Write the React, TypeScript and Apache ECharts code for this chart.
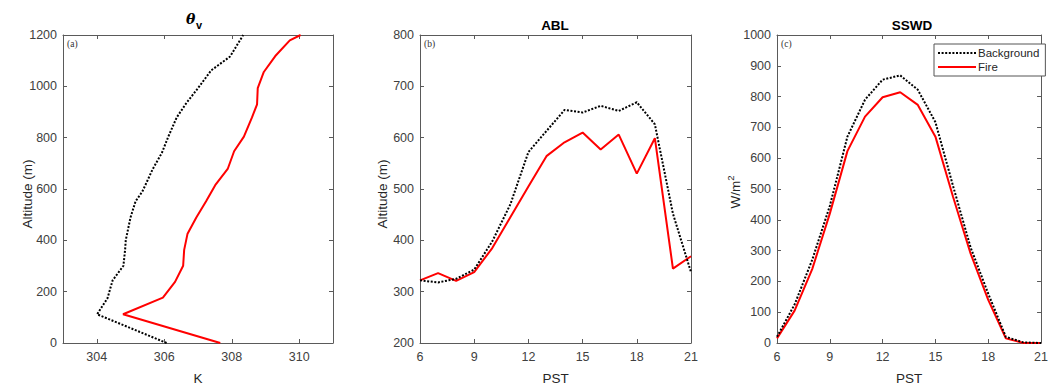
import React, { useEffect, useRef } from "react";
import * as echarts from "echarts";

// Panel (a): virtual potential temperature profiles
const bgThetaK = [306.07, 304.01, 304.32, 304.47, 304.79, 304.84, 304.86, 305.0, 305.15, 305.35, 305.44, 305.66, 305.93, 306.12, 306.37, 306.66, 307.0, 307.39, 307.95, 308.34];
const bgThetaAlt = [0, 112, 175, 244, 301, 363, 401, 489, 552, 590, 615, 678, 741, 804, 879, 936, 993, 1062, 1116, 1200];
const fireThetaK = [307.66, 304.78, 305.96, 306.32, 306.56, 306.59, 306.69, 306.95, 307.24, 307.51, 307.88, 308.07, 308.36, 308.6, 308.75, 308.77, 308.95, 309.29, 309.72, 310.04];
const fireThetaAlt = [0, 112, 177, 238, 301, 363, 426, 489, 552, 615, 678, 747, 804, 879, 930, 993, 1056, 1118, 1179, 1200];

// Hours (PST)
const hours = [6, 7, 8, 9, 10, 11, 12, 13, 14, 15, 16, 17, 18, 19, 20, 21];
// Panel (b): ABL height
const bgABL = [322, 318, 325, 343, 398, 470, 572, 613, 654, 649, 662, 652, 669, 626, 452, 338];
const fireABL = [322, 336, 321, 338, 385, 445, 505, 564, 591, 610, 577, 606, 530, 599, 345, 369];
// Panel (c): SSWD
const bgSSWD = [20, 125, 270, 445, 670, 790, 855, 869, 822, 717, 510, 310, 160, 20, 2, 0];
const fireSSWD = [15, 105, 240, 420, 623, 735, 798, 814, 773, 670, 475, 290, 140, 15, 0, 0];

const kTicks = [304, 306, 308, 310];

const FONT = "'Liberation Sans', Arial, Helvetica, sans-serif";
const AX = "#5a5a5a";
const LBL = "#404040";

export default function App() {
  const ref = useRef<HTMLDivElement>(null);
  useEffect(() => {
    if (!ref.current) return;
    const chart = echarts.init(ref.current, null, { renderer: "svg" });

    const grids = [
      { left: 63, top: 35, width: 270, height: 318 },
      { left: 420, top: 35, width: 271, height: 318 },
      { left: 777, top: 35, width: 271, height: 318 },
    ];

    const fmt = (v: number) => String(v);
    const tickStyle = { show: true, inside: true, length: 4, lineStyle: { color: AX, width: 1 } };
    const axisLine = { show: true, onZero: false, lineStyle: { color: AX, width: 1 } };
    const labelStyle = { color: LBL, fontSize: 12.5, fontFamily: FONT, formatter: fmt };
    const nameStyle = { color: "#262626", fontSize: 13.5, fontFamily: FONT };

    const xAxes: any[] = [
      {
        type: "value", gridIndex: 0, min: 303, max: 311,
        axisLine, axisTick: { ...tickStyle, customValues: kTicks },
        axisLabel: { ...labelStyle, margin: 7, customValues: kTicks },
        splitLine: { show: false },
        name: "K", nameLocation: "middle", nameGap: 28, nameTextStyle: nameStyle,
      },
      {
        type: "value", gridIndex: 1, min: 6, max: 21, interval: 3,
        axisLine, axisTick: tickStyle, axisLabel: { ...labelStyle, margin: 7 },
        splitLine: { show: false },
        name: "PST", nameLocation: "middle", nameGap: 28, nameTextStyle: nameStyle,
      },
      {
        type: "value", gridIndex: 2, min: 6, max: 21, interval: 3,
        axisLine, axisTick: tickStyle, axisLabel: { ...labelStyle, margin: 7 },
        splitLine: { show: false },
        name: "PST", nameLocation: "middle", nameGap: 28, nameTextStyle: nameStyle,
      },
      {
        type: "value", gridIndex: 0, position: "top", min: 303, max: 311,
        axisLine, axisTick: { ...tickStyle, customValues: kTicks }, axisLabel: { show: false },
        splitLine: { show: false },
      },
      {
        type: "value", gridIndex: 1, position: "top", min: 6, max: 21, interval: 3,
        axisLine, axisTick: tickStyle, axisLabel: { show: false }, splitLine: { show: false },
      },
      {
        type: "value", gridIndex: 2, position: "top", min: 6, max: 21, interval: 3,
        axisLine, axisTick: tickStyle, axisLabel: { show: false }, splitLine: { show: false },
      },
    ];

    const yAxes: any[] = [
      {
        type: "value", gridIndex: 0, min: 0, max: 1200, interval: 200,
        axisLine, axisTick: tickStyle, axisLabel: { ...labelStyle, margin: 6 },
        splitLine: { show: false },
      },
      {
        type: "value", gridIndex: 1, min: 200, max: 800, interval: 100,
        axisLine, axisTick: tickStyle, axisLabel: { ...labelStyle, margin: 6 },
        splitLine: { show: false },
      },
      {
        type: "value", gridIndex: 2, min: 0, max: 1000, interval: 100,
        axisLine, axisTick: tickStyle, axisLabel: { ...labelStyle, margin: 6 },
        splitLine: { show: false },
      },
      {
        type: "value", gridIndex: 0, position: "right", min: 0, max: 1200, interval: 200,
        axisLine, axisTick: tickStyle, axisLabel: { show: false }, splitLine: { show: false },
      },
      {
        type: "value", gridIndex: 1, position: "right", min: 200, max: 800, interval: 100,
        axisLine, axisTick: tickStyle, axisLabel: { show: false }, splitLine: { show: false },
      },
      {
        type: "value", gridIndex: 2, position: "right", min: 0, max: 1000, interval: 100,
        axisLine, axisTick: tickStyle, axisLabel: { show: false }, splitLine: { show: false },
      },
    ];

    const bgLine = { color: "#000000", width: 2, type: [2, 1.6] as any };
    const fireLine = { color: "#ff0000", width: 2, type: "solid" as any };

    const mk = (name: string, xi: number, data: number[][], ls: any, z: number) => ({
      name, type: "line", xAxisIndex: xi, yAxisIndex: xi, data,
      showSymbol: false, symbol: "none", lineStyle: ls, itemStyle: { color: ls.color },
      z, silent: true,
    });

    const series = [
      mk("Background", 0, bgThetaK.map((k, i) => [k, bgThetaAlt[i]]), bgLine, 3),
      mk("Fire", 0, fireThetaK.map((k, i) => [k, fireThetaAlt[i]]), fireLine, 2),
      mk("Background", 1, hours.map((h, i) => [h, bgABL[i]]), bgLine, 3),
      mk("Fire", 1, hours.map((h, i) => [h, fireABL[i]]), fireLine, 2),
      mk("Background", 2, hours.map((h, i) => [h, bgSSWD[i]]), bgLine, 3),
      mk("Fire", 2, hours.map((h, i) => [h, fireSSWD[i]]), fireLine, 2),
    ];

    const titleFont = { fontFamily: FONT, fontWeight: "bold", fontSize: 13.5, fill: "#000" };
    const panelFont = { fontFamily: "'Liberation Serif', 'Times New Roman', serif", fontSize: 9.5, fill: "#333" };
    const yNameFont = { fontFamily: FONT, fontSize: 13.5, fill: "#262626", align: "center", verticalAlign: "middle" };

    chart.setOption({
      animation: false,
      backgroundColor: "#ffffff",
      grid: grids,
      xAxis: xAxes,
      yAxis: yAxes,
      series,
      legend: {
        data: ["Background", "Fire"],
        orient: "vertical",
        left: 934,
        top: 44,
        padding: [3, 6, 3, 3],
        itemGap: 2,
        itemWidth: 38,
        itemHeight: 10,
        borderColor: "#555",
        borderWidth: 1,
        backgroundColor: "#ffffff",
        itemStyle: { opacity: 0 },
        textStyle: { fontFamily: FONT, fontSize: 11.5, color: "#262626", padding: [0, 0, 0, -3] },
        selectedMode: false,
      },
      graphic: [
        { type: "text", left: 186, top: 12, style: { text: "θ", fontFamily: "'DejaVu Serif', serif", fontStyle: "italic", fontWeight: "bold", fontSize: 14, fill: "#000" } },
        { type: "text", left: 196, top: 19, style: { text: "v", fontFamily: FONT, fontWeight: "bold", fontSize: 11, fill: "#000" } },
        { type: "text", x: 555, y: 25, style: { ...titleFont, text: "ABL", align: "center", verticalAlign: "middle" } },
        { type: "text", x: 912, y: 25, style: { ...titleFont, text: "SSWD", align: "center", verticalAlign: "middle" } },
        { type: "text", x: 67, y: 44, style: { ...panelFont, text: "(a)", verticalAlign: "middle" } },
        { type: "text", x: 424, y: 44, style: { ...panelFont, text: "(b)", verticalAlign: "middle" } },
        { type: "text", x: 781, y: 44, style: { ...panelFont, text: "(c)", verticalAlign: "middle" } },
        { type: "text", x: 27, y: 194, rotation: Math.PI / 2, style: { ...yNameFont, text: "Altitude (m)" } },
        { type: "text", x: 382, y: 194, rotation: Math.PI / 2, style: { ...yNameFont, text: "Altitude (m)" } },
        {
          type: "text", x: 735, y: 192, rotation: Math.PI / 2,
          style: {
            ...yNameFont,
            text: "{n|W/m}{s|2}",
            rich: {
              n: { fontSize: 13.5, fontFamily: FONT, fill: "#262626" },
              s: { fontSize: 9.5, fontFamily: FONT, fill: "#262626", padding: [0, 0, 9, 0] },
            },
          },
        },
      ],
    });

    return () => chart.dispose();
  }, []);

  return (
    <div
      ref={ref}
      style={{ position: "fixed", left: 0, top: 0, width: 1051, height: 390, background: "#fff" }}
    />
  );
}
